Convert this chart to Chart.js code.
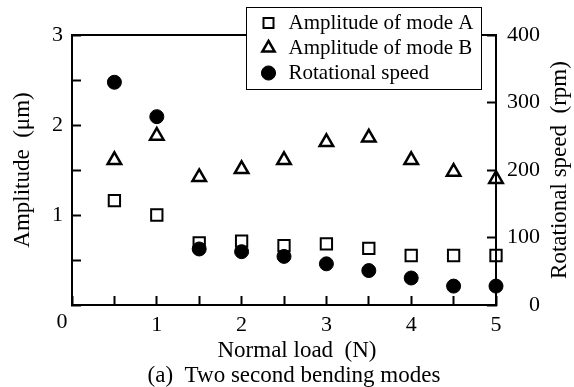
<!DOCTYPE html>
<html><head><meta charset="utf-8">
<script src="https://cdn.jsdelivr.net/npm/chart.js@4.4.1/dist/chart.umd.min.js"></script>
<style>html,body{margin:0;padding:0;background:#fff;font-family:"Liberation Serif",serif}canvas{display:block}
#probe{position:absolute;left:-1000px;top:0;font:22px "Liberation Serif"}</style>
</head><body>
<span id="probe">Amplitude 0123</span>
<canvas id="c" width="574" height="387"></canvas>
<script>
// ---- data ----
const loads = [0.5, 1, 1.5, 2, 2.5, 3, 3.5, 4, 4.5, 5];
const ampModeA = [1.16, 1.00, 0.69, 0.71, 0.66, 0.68, 0.63, 0.55, 0.55, 0.55];
const ampModeB = [1.61, 1.88, 1.42, 1.51, 1.61, 1.81, 1.86, 1.61, 1.48, 1.40];
const rotSpeed = [330, 279, 83, 79, 72, 61, 51, 40, 28, 28];
const xTickLabels = [1, 2, 3, 4, 5];
const ampTickLabels = [1, 2, 3];
const speedTickLabels = [0, 100, 200, 300, 400];
const seriesNames = ['Amplitude of mode A', 'Amplitude of mode B', 'Rotational speed'];
const xTitle = 'Normal load  (N)';
const yLeftTitle = 'Amplitude  (μm)';
const yRightTitle = 'Rotational speed  (rpm)';
const caption = '(a)  Two second bending modes';
const originLabel = '0';

const FONT = '"Liberation Serif", "Times New Roman", serif';
Chart.defaults.font.family = FONT;
Chart.defaults.color = '#000';

const pts = (ys) => loads.map((x, i) => ({x: x, y: ys[i]}));

const frame = {
  id: 'frame',
  afterLayout(chart) {
    const a = chart.chartArea, lg = chart.legend;
    const bx = {l: a.right - 250, r: a.right - 15, t: a.top - 28, b: a.top + 54};
    chart.$legendBox = bx;
    lg.left = bx.l + 9; lg.top = bx.t + 1.5;
    lg.right = bx.r; lg.bottom = bx.b + 60;
    lg.width = lg.right - lg.left; lg.height = lg.bottom - lg.top;
    const mid = (a.left + a.right) / 2;
    chart.boxes.forEach((b) => {
      if (!b.options || b.options.text === undefined) return;
      let c = null;
      if (b.options.text === caption) c = mid + 10;
      if (b.options.text === xTitle) c = mid + 13;
      if (c !== null) { b.left = c - 200; b.right = c + 200; b.width = 400; }
    });
  },
  beforeDraw(chart) {
    const ctx = chart.ctx, a = chart.chartArea, bx = chart.$legendBox;
    ctx.save();
    ctx.fillStyle = '#fff';
    ctx.fillRect(0, 0, chart.width, chart.height);
    ctx.strokeStyle = '#000';
    ctx.lineWidth = 2;
    ctx.beginPath();
    ctx.moveTo(a.left - 1, a.top);
    ctx.lineTo(a.right + 1, a.top);
    ctx.stroke();
    ctx.fillStyle = '#fff';
    ctx.fillRect(bx.l, bx.t, bx.r - bx.l, bx.b - bx.t);
    ctx.lineWidth = 1;
    ctx.strokeRect(bx.l + 0.5, bx.t + 0.5, bx.r - bx.l, bx.b - bx.t);
    ctx.restore();
  },
  afterDraw(chart) {
    const ctx = chart.ctx, a = chart.chartArea;
    const xs = chart.scales.x, ys = chart.scales.y;
    ctx.save();
    ctx.fillStyle = '#000';
    ctx.textAlign = 'center';
    ctx.textBaseline = 'middle';
    ctx.font = '22px ' + FONT;
    ctx.fillText(originLabel, xs.getPixelForValue(0) - 10, ys.getPixelForValue(0) + 17);
    ctx.font = '23px ' + FONT;
    ctx.translate(560, (a.top + a.bottom) / 2);
    ctx.rotate(-Math.PI / 2);
    ctx.fillText(yRightTitle, 0, 0);
    ctx.restore();
  }
};

const gridOpts = {drawOnChartArea: false, drawTicks: true, tickLength: -9, tickWidth: 2, tickColor: '#000'};
const borderOpts = {display: true, color: '#000', width: 2};

function build() {
  new Chart(document.getElementById('c'), {
    type: 'scatter',
    data: {
      datasets: [
        {label: seriesNames[0], data: pts(ampModeA), yAxisID: 'y', pointStyle: 'rect', pointRadius: 8,
         borderColor: '#000', backgroundColor: 'rgba(0,0,0,0)', borderWidth: 2, showLine: false, clip: false},
        {label: seriesNames[1], data: pts(ampModeB), yAxisID: 'y', pointStyle: 'triangle', pointRadius: 7.8,
         borderColor: '#000', backgroundColor: 'rgba(0,0,0,0)', borderWidth: 2.5, showLine: false, clip: false},
        {label: seriesNames[2], data: pts(rotSpeed), yAxisID: 'y2', pointStyle: 'circle', pointRadius: 7,
         borderColor: '#000', backgroundColor: '#000', borderWidth: 1, showLine: false, clip: false}
      ]
    },
    options: {
      responsive: false,
      animation: false,
      events: [],
      devicePixelRatio: 1,
      layout: {padding: {top: 35, left: 0, right: 34, bottom: 0}},
      scales: {
        x: {
          type: 'linear', position: 'bottom', min: 0, max: 5,
          afterFit(s) { s.height = 34; },
          border: borderOpts, grid: gridOpts,
          ticks: {stepSize: 0.5, autoSkip: false, maxRotation: 0, padding: 16, font: {size: 22}, color: '#000',
                  callback: (v) => xTickLabels.includes(v) ? String(v) : ''},
          title: {display: false}
        },
        y: {
          type: 'linear', position: 'left', min: 0, max: 3,
          afterFit(s) { s.width = 72; },
          border: borderOpts, grid: gridOpts,
          ticks: {stepSize: 0.5, autoSkip: false, padding: 18, font: {size: 22}, color: '#000',
                  callback: (v) => ampTickLabels.includes(v) ? String(v) : ''},
          title: {display: true, text: yLeftTitle, font: {size: 23}, padding: {top: 9, bottom: 0}, color: '#000'}
        },
        y2: {
          type: 'linear', position: 'right', min: 0, max: 400,
          afterFit(s) { s.width = 44; },
          border: borderOpts, grid: gridOpts,
          ticks: {stepSize: 100, autoSkip: false, padding: 20, crossAlign: 'far', font: {size: 22}, color: '#000',
                  callback: (v) => speedTickLabels.includes(v) ? String(v) : ''},
          title: {display: false}
        }
      },
      plugins: {
        legend: {
          display: true, position: 'chartArea', align: 'start',
          labels: {usePointStyle: true, boxWidth: 19, boxHeight: 10, padding: 4, font: {size: 21}, color: '#000'}
        },
        subtitle: {
          display: true, position: 'bottom', text: xTitle, color: '#000',
          font: {size: 23, weight: 'normal', lineHeight: 1}, padding: {top: 0, bottom: 2}
        },
        title: {
          display: true, position: 'bottom', text: caption, color: '#000',
          font: {size: 23, weight: 'normal', lineHeight: 1}, padding: {top: 0, bottom: 0}
        },
        tooltip: {enabled: false}
      }
    },
    plugins: [frame]
  });
}

let built = false;
function go() { if (!built) { built = true; build(); } }
if (document.fonts && document.fonts.load) {
  Promise.all([
    document.fonts.load('22px "Liberation Serif"'),
    document.fonts.load('23px "Liberation Serif"')
  ]).then(go, go);
  setTimeout(go, 1500);
} else {
  go();
}
</script>
</body></html>
